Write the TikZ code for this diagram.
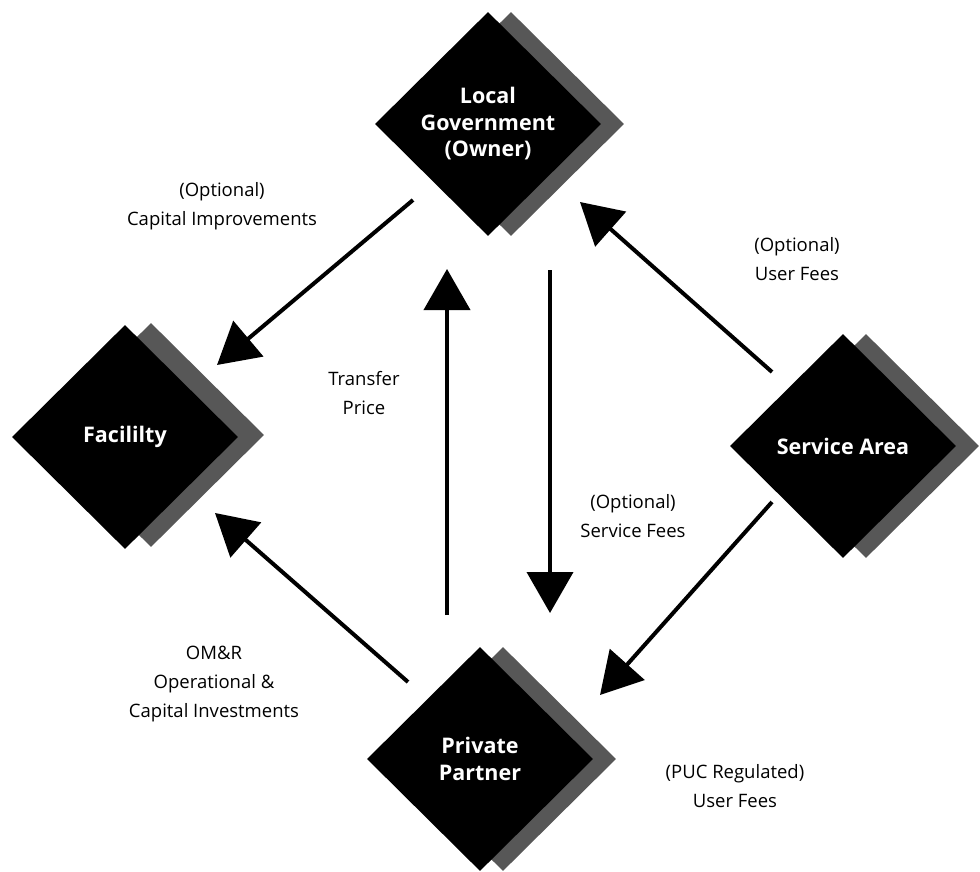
\documentclass[tikz,border=0pt]{standalone}
\usepackage{fontspec}
\setmainfont{Open Sans}
\usetikzlibrary{shapes.geometric,arrows.meta}
\begin{document}
\begin{tikzpicture}[x=1pt,y=-1pt,
  front/.style={diamond, aspect=1, fill=black, inner sep=0pt,
    minimum width=226pt, minimum height=224pt, text=white,
    font=\fontsize{21.5}{26.5}\selectfont\bfseries, align=center},
  back/.style={diamond, aspect=1, fill=black!66, inner sep=0pt,
    minimum width=226pt, minimum height=224pt},
  lab/.style={font=\fontsize{18.5}{29}\selectfont, align=center, text=black},
  arr/.style={line width=4pt, -{Triangle[length=41pt,width=46pt]}}
]
\fill[white] (0,0) rectangle (980,872);
\useasboundingbox (0,0) rectangle (980,872);

% shadows
\node[back] (lgs) at (511,124) {};
\node[back] (facs) at (151,435) {};
\node[back] (sas) at (866,446) {};
\node[back] (pps) at (503,759) {};

% fronts
\node[front] (lg) at (488,124) {Local\\Government\\(Owner)};
\node[front] (fac) at (125,437) {Facililty};
\node[front] (sa) at (843,446) {Service Area};
\node[front] (pp) at (480,759) {Private\\Partner};

% connector ends
\coordinate (a1s) at (413,200);
\coordinate (a1e) at (217,365);
\coordinate (a2s) at (408,682);
\coordinate (a2e) at (215,513);
\coordinate (a3s) at (447,615);
\coordinate (a3e) at (447,269);
\coordinate (a4s) at (550,270);
\coordinate (a4e) at (550,613);
\coordinate (a5s) at (772,372);
\coordinate (a5e) at (580,202);
\coordinate (a6s) at (772,502);
\coordinate (a6e) at (600,695);

\draw[arr] (a1s) -- (a1e);
\draw[arr] (a2s) -- (a2e);
\draw[arr] (a3s) -- (a3e);
\draw[arr] (a4s) -- (a4e);
\draw[arr] (a5s) -- (a5e);
\draw[arr] (a6s) -- (a6e);

% labels
\node[lab] (l1) at (222,206) {(Optional)\\Capital Improvements};
\node[lab] (l2) at (364,393) {Transfer\\Price};
\node[lab] (l3) at (797,259) {(Optional)\\User Fees};
\node[lab] (l4) at (633,516) {(Optional)\\Service Fees};
\node[lab] (l5) at (214,684) {OM\&R\\Operational \&\\Capital Investments};
\node[lab] (l6) at (735,786) {(PUC Regulated)\\User Fees};
\end{tikzpicture}
\end{document}
